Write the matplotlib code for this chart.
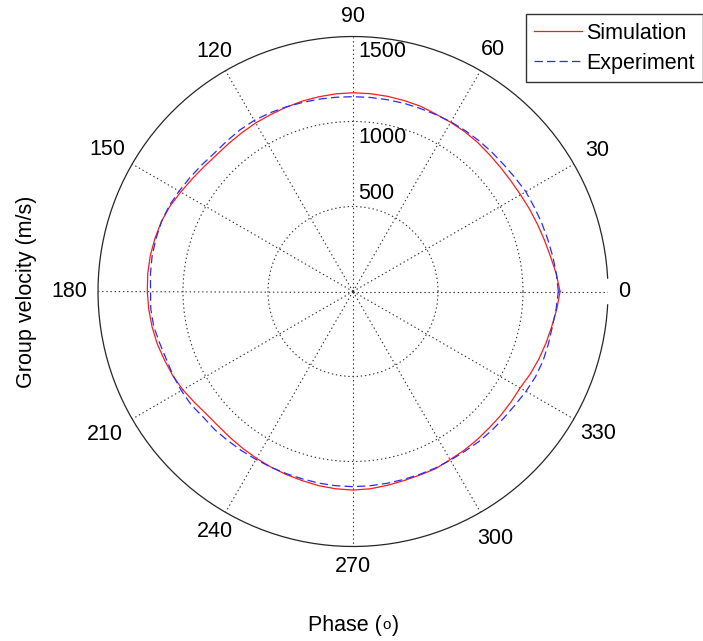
import numpy as np
import matplotlib
matplotlib.use('Agg')
import matplotlib.pyplot as plt
import matplotlib.transforms as mtransforms

# phase angle (deg) and group velocity (m/s)
angles = list(range(0, 365, 5))
sim = [1218, 1200, 1180, 1166, 1155, 1146, 1138, 1134, 1134, 1137,
       1143, 1147, 1149, 1152, 1160, 1163, 1166, 1168, 1169, 1167,
       1163, 1159, 1153, 1148, 1145, 1140, 1137, 1136, 1143, 1155,
       1170, 1188, 1200, 1206, 1211, 1212, 1210, 1206, 1200, 1192,
       1180, 1170, 1156, 1138, 1124, 1120, 1123, 1128, 1134, 1140,
       1146, 1152, 1160, 1165, 1168, 1165, 1158, 1152, 1149, 1150,
       1142, 1140, 1137, 1134, 1134, 1134, 1135, 1150, 1163, 1175,
       1187, 1203, 1218]
exp = [1208, 1201, 1193, 1186, 1181, 1176, 1174, 1165, 1159, 1157,
       1156, 1154, 1152, 1149, 1147, 1147, 1146, 1146, 1146, 1147,
       1149, 1151, 1155, 1159, 1162, 1160, 1155, 1152, 1160, 1170,
       1181, 1193, 1199, 1200, 1200, 1196, 1191, 1194, 1190, 1177,
       1168, 1168, 1166, 1162, 1150, 1150, 1145, 1143, 1141, 1141,
       1141, 1142, 1145, 1147, 1148, 1147, 1146, 1145, 1145, 1146,
       1146, 1147, 1152, 1155, 1158, 1164, 1175, 1185, 1190, 1190,
       1191, 1199, 1208]

rmax = 1500
rticks = [500, 1000, 1500]
theta_ticks = list(range(0, 360, 30))

plt.rcParams['font.family'] = ['Liberation Sans', 'DejaVu Sans']
plt.rcParams['lines.scale_dashes'] = False
fs = 15.5

fig = plt.figure(figsize=(7.03, 6.41), dpi=100)
ax = fig.add_axes([98 / 703, 1 - 546.5 / 641, 510 / 703, 510 / 641],
                  projection='polar')
ax.set_ylim(0, rmax)
ax.set_rticks(rticks[:-1])
ax.set_yticklabels([])
ax.set_thetagrids(theta_ticks, labels=[''] * len(theta_ticks))
ax.grid(True, color='0.2', linestyle=(0, (1, 2)), linewidth=0.8)
ax.spines['polar'].set_visible(False)

# outer ring, MATLAB leaves a small gap at 0 deg
ring = np.deg2rad(np.linspace(3, 357, 300))
ax.plot(ring, np.full_like(ring, rmax), color='0.15', lw=0.9, clip_on=False)

th = np.deg2rad(angles)
ax.plot(th, sim, color='#ff1a1a', lw=0.9, label='Simulation')
ax.plot(th, exp, color='#2a2aff', lw=0.9, linestyle=(0, (6, 3)),
        label='Experiment')

# angle labels, radius as fraction of rmax (as placed in the original)
lab_r = [1.063, 1.108, 1.098, 1.077, 1.086, 1.112,
         1.114, 1.122, 1.086, 1.077, 1.118, 1.11]
for a, f in zip(theta_ticks, lab_r):
    ax.text(np.deg2rad(a), f * rmax, str(a), ha='center', va='center',
            fontsize=fs)

off = mtransforms.ScaledTranslation(4 / 72, 0, fig.dpi_scale_trans)
for val, rp in zip(rticks, [579, 905, 1410]):
    ax.text(np.pi / 2, rp, str(val), ha='left', va='center', fontsize=fs,
            transform=ax.transData + off)

fig.text(27 / 703, 1 - 291.5 / 641, 'Group velocity (m/s)', rotation=90,
         ha='center', va='center', fontsize=fs)

# x label "Phase (o)" with a small raised o
base = 1 - 631.5 / 641
t1 = fig.text(308 / 703, base, 'Phase (', ha='left', va='baseline',
              fontsize=fs)
t2 = ax.annotate('o', xy=(1, base), xycoords=(t1, 'figure fraction'),
                 xytext=(0.6, 1.5), textcoords='offset points',
                 ha='left', va='baseline', fontsize=fs * 0.7,
                 annotation_clip=False)
ax.annotate(')', xy=(1, base), xycoords=(t2, 'figure fraction'),
            xytext=(0.6, 0), textcoords='offset points',
            ha='left', va='baseline', fontsize=fs, annotation_clip=False)

leg = fig.legend(loc='upper right', bbox_to_anchor=(1.0, 1 - 14 / 641),
                 fontsize=fs, frameon=True, fancybox=False, handlelength=2.2,
                 handletextpad=0.2, borderpad=0.4, labelspacing=0.42,
                 borderaxespad=0)
leg.get_frame().set_edgecolor('black')
leg.get_frame().set_linewidth(1.0)

fig.savefig('out.png', dpi=100)
